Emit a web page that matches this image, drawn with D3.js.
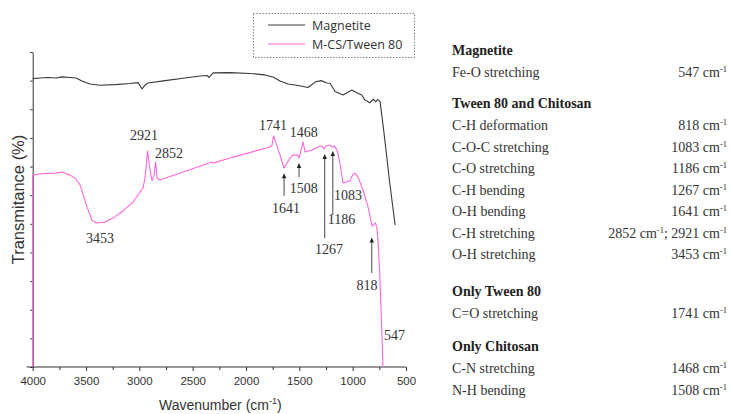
<!DOCTYPE html>
<html>
<head>
<meta charset="utf-8">
<script src="https://cdn.jsdelivr.net/npm/d3@7"></script>
<style>
  html, body { margin: 0; padding: 0; background: #fff; }
  svg { display: block; }
  .tick text { font-family: "Liberation Sans", Arial, sans-serif; font-size: 11.5px; fill: #333; }
</style>
</head>
<body>
<div id="chart"></div>
<script>
// ---- spectra: [wavenumber cm-1, transmittance (arb. %)] ----
const magnetite = [
  [4000, 100.7], [3932, 100.9], [3857, 101.1], [3781, 100.9], [3725, 101.3], [3650, 101.1],
  [3594, 100.9], [3538, 99.9], [3463, 98.8], [3369, 98.4], [3228, 98.6], [3088, 99.0],
  [3012, 99.3], [2975, 97.1], [2947, 98.4], [2919, 99.2], [2759, 100.0], [2572, 100.9],
  [2431, 101.6], [2366, 101.8], [2347, 101.1], [2309, 102.7], [2149, 102.8], [1962, 102.5],
  [1822, 102.0], [1747, 101.3], [1681, 99.9], [1606, 98.8], [1512, 98.3], [1418, 97.6],
  [1353, 99.5], [1297, 100.0], [1241, 99.2], [1212, 99.1], [1165, 96.2], [1091, 95.0],
  [1008, 96.7], [962, 95.8], [915, 95.0], [884, 93.2], [837, 92.3], [806, 93.5],
  [783, 92.6], [765, 93.5], [743, 92.6], [712, 83.5], [680, 73.4], [656, 65.3], [602, 49.6]
];

const mcsTween = [
  [4000, 0], [4000, 67.0], [3932, 67.4], [3857, 67.6], [3781, 67.7], [3725, 68.1],
  [3650, 67.0], [3603, 66.0], [3556, 63.6], [3491, 55.9], [3444, 51.3], [3406, 50.3],
  [3322, 50.6], [3247, 52.0], [3153, 54.5], [3059, 57.6], [2994, 61.1], [2966, 62.5],
  [2947, 66.0], [2923, 75.4], [2900, 68.8], [2881, 65.0], [2862, 67.0], [2848, 71.6],
  [2834, 66.0], [2806, 65.3], [2590, 68.1], [2318, 71.6], [2309, 71.2], [2122, 73.3],
  [1775, 76.8], [1756, 77.5], [1742, 80.7], [1718, 78.2], [1681, 74.0], [1644, 69.5],
  [1587, 73.0], [1559, 74.0], [1517, 74.0], [1503, 73.0], [1484, 75.8], [1465, 78.6],
  [1447, 75.1], [1381, 75.8], [1325, 76.8], [1288, 77.2], [1269, 76.1], [1250, 77.2],
  [1213, 77.5], [1189, 76.8], [1175, 77.2], [1147, 75.8], [1119, 71.2], [1091, 64.3],
  [1063, 64.6], [1025, 65.0], [997, 67.4], [978, 67.7], [950, 66.3], [903, 61.8],
  [856, 55.9], [818, 49.2], [800, 49.9], [786, 50.3], [772, 48.2], [762, 44.3],
  [748, 33.9], [734, 19.9], [716, 0]
];

const seriesNames = ["Magnetite", "M-CS/Tween 80"];
const seriesColors = ["#3a3a3a", "#ff66d9"];

// peak labels: text, wavenumber, transmittance, anchor
const peakLabels = [
  ["3453", 3369, 43.3, "middle"], ["2921", 2956, 79.3, "middle"], ["2852", 2722, 73.0, "middle"],
  ["1741", 1747, 82.8, "middle"], ["1468", 1459, 80.3, "middle"], ["1641", 1625, 53.8, "middle"],
  ["1508", 1459, 60.8, "middle"], ["1267", 1221, 39.5, "middle"], ["1186", 1105, 49.9, "middle"],
  ["1083", 1043, 58.3, "middle"], ["818", 865, 26.9, "middle"], ["547", 706, 9.4, "start"]
];

// arrows: wavenumber, tip T, tail T
const peakArrows = [
  [1643, 67.7, 59.7], [1503, 71.2, 66.3], [1262, 74.4, 45.0], [1186, 75.4, 53.1], [821, 45.2, 32.8]
];

const xTicks = [4000, 3500, 3000, 2500, 2000, 1500, 1000, 500];
const xMinorTicks = [3750, 3250, 2750, 2250, 1750, 1250, 750];
const yTicks = [0, 10, 20, 30, 40, 50, 60, 70, 80, 90, 100, 110];

// band assignment table
const sectionTitles = ["Magnetite", "Tween 80 and Chitosan", "Only Tween 80", "Only Chitosan"];
const sectionRows = [
  [["Fe-O stretching", [547]]],
  [["C-H deformation", [818]], ["C-O-C stretching", [1083]], ["C-O stretching", [1186]],
   ["C-H bending", [1267]], ["O-H bending", [1641]], ["C-H stretching", [2852, 2921]],
   ["O-H stretching", [3453]]],
  [["C=O stretching", [1741]]],
  [["C-N stretching", [1468]], ["N-H bending", [1508]]]
];
const sectionGaps = [0, 31, 37, 33];

// ---- layout ----
const W = 730, H = 414;
const serif = "'Liberation Serif', 'Times New Roman', serif";
const sans = "'Liberation Sans', Arial, sans-serif";

const svg = d3.select("#chart").append("svg")
  .attr("width", W).attr("height", H).attr("viewBox", `0 0 ${W} ${H}`);
svg.append("rect").attr("width", W).attr("height", H).attr("fill", "#fff");

const x = d3.scaleLinear().domain([4000, 500]).range([32.7, 406]);
const y = d3.scaleLinear().domain([0, 110]).range([367, 52]);

// x axis: labelled majors + short minors
const xAxisG = svg.append("g").attr("transform", `translate(0,${y(0)})`)
  .call(d3.axisBottom(x).tickValues(xTicks).tickFormat(d3.format("d"))
    .tickSize(4).tickSizeOuter(0).tickPadding(6));
xAxisG.select(".domain").attr("d", `M${x.range()[0] - 6},0H${x.range()[1]}`);
svg.append("g").attr("transform", `translate(0,${y(0)})`)
  .call(d3.axisBottom(x).tickValues(xMinorTicks).tickSize(3).tickFormat(""))
  .call((g) => g.select(".domain").remove());

svg.append("g").attr("transform", `translate(${x(4000)},0)`)
  .call(d3.axisLeft(y).tickValues(yTicks).tickSize(2.5).tickSizeOuter(0).tickFormat(""));

svg.selectAll(".domain, .tick line").attr("stroke", "#333");

// axis titles
const xTitle = svg.append("text")
  .attr("x", (x.range()[0] + x.range()[1]) / 2 + 1).attr("y", 410)
  .attr("text-anchor", "middle").attr("font-family", sans).attr("font-size", 14).attr("fill", "#333");
xTitle.append("tspan").text("Wavenumber (cm");
xTitle.append("tspan").attr("font-size", 9).attr("dy", -6).text("-1");
xTitle.append("tspan").attr("dy", 6).text(")");

svg.append("text")
  .attr("transform", `translate(24,${(y(0) + y(110)) / 2 - 10}) rotate(-90)`)
  .attr("text-anchor", "middle").attr("font-family", sans).attr("font-size", 16.5).attr("fill", "#333")
  .text("Transmitance (%)");

// spectra
const line = d3.line().x((d) => x(d[0])).y((d) => y(d[1]));
[magnetite, mcsTween].forEach((s, i) => {
  svg.append("path").datum(s).attr("d", line)
    .attr("fill", "none").attr("stroke", seriesColors[i]).attr("stroke-width", 1.1)
    .attr("stroke-linejoin", "round");
});

// arrows
const arrowG = svg.append("g");
peakArrows.forEach(([wn, tip, tail]) => {
  const ax = x(wn), ty = y(tip);
  arrowG.append("line").attr("x1", ax).attr("x2", ax).attr("y1", y(tail)).attr("y2", ty + 4)
    .attr("stroke", "#333").attr("stroke-width", 0.9);
  arrowG.append("path").attr("d", `M${ax},${ty}L${ax - 2.2},${ty + 5}L${ax + 2.2},${ty + 5}Z`)
    .attr("fill", "#222");
});

// peak labels
svg.append("g").selectAll("text").data(peakLabels).join("text")
  .attr("x", (d) => x(d[1])).attr("y", (d) => y(d[2]))
  .attr("text-anchor", (d) => d[3])
  .attr("font-family", serif).attr("font-size", 14).attr("fill", "#333")
  .text((d) => d[0]);

// legend
const lg = svg.append("g");
lg.append("rect").attr("x", 253.5).attr("y", 13.5).attr("width", 161).attr("height", 44)
  .attr("fill", "#fff").attr("stroke", "#666").attr("stroke-width", 0.8).attr("stroke-dasharray", "1.5,1.5");
seriesNames.forEach((name, i) => {
  const ly = 25 + i * 19;
  lg.append("line").attr("x1", 268).attr("x2", 305).attr("y1", ly).attr("y2", ly)
    .attr("stroke", seriesColors[i]).attr("stroke-width", 1);
  lg.append("text").attr("x", 312).attr("y", ly + 4.5)
    .attr("font-family", "'Open Sans', sans-serif").attr("font-size", 12.5).attr("fill", "#333")
    .text(name);
});

// band table
const tbl = svg.append("g").attr("font-family", serif).attr("font-size", 14).attr("fill", "#333");
let cy = 55;
sectionTitles.forEach((title, si) => {
  cy += sectionGaps[si];
  tbl.append("text").attr("x", 452).attr("y", cy).attr("font-weight", "bold").attr("fill", "#222").text(title);
  sectionRows[si].forEach(([name, vals], ri) => {
    cy += ri === 0 ? 22 : 21.5;
    tbl.append("text").attr("x", 452).attr("y", cy).text(name);
    const t = tbl.append("text").attr("x", 727).attr("y", cy).attr("text-anchor", "end");
    vals.forEach((v, vi) => {
      t.append("tspan").attr("dy", vi === 0 ? 0 : 5).text((vi ? "; " : "") + v + " cm");
      t.append("tspan").attr("dy", -5).attr("font-size", 8.5).text("-1");
    });
  });
});
</script>
</body>
</html>
